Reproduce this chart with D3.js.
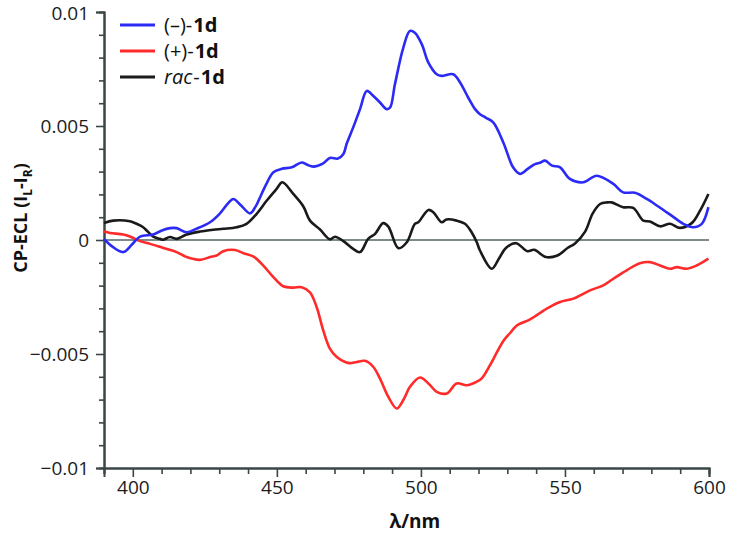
<!DOCTYPE html>
<html>
<head>
<meta charset="utf-8">
<script src="https://cdn.jsdelivr.net/npm/d3@7"></script>
<style>
  html, body { margin: 0; padding: 0; background: #ffffff; }
  svg { display: block; }
  text { font-family: "Open Sans", "Noto Sans", sans-serif; }
</style>
</head>
<body>
<svg id="chart" width="731" height="538"></svg>
<script>
// ---- data ----
const minusWl = [390,392.8,396.7,399.7,402.5,407,410.1,412.9,415.2,418.7,422.2,426.8,430.2,433,434.9,437.6,440.7,442.8,444.7,446.6,448.8,451.7,455.2,458.6,460.5,462.6,466.1,468.4,471.2,473.1,474.2,476.5,478.9,481.2,483.5,485.8,488.1,489.3,491,493.9,496.2,497.9,500.3,502.6,505.5,507.2,511.2,513.6,516.4,518.8,520.5,522.6,525.1,528.6,532,534.4,537.2,539.6,541.3,543.1,545.5,548.3,551.7,556.4,561,566.8,570.2,574.3,578.4,582.4,587,591.1,594.5,597.5,599.8];
const minusVal = [0.05,-0.28,-0.53,-0.2,0.15,0.24,0.42,0.52,0.52,0.34,0.5,0.78,1.16,1.6,1.8,1.51,1.17,1.51,2.02,2.52,2.97,3.12,3.19,3.4,3.3,3.22,3.36,3.6,3.57,3.77,4.21,4.94,5.75,6.54,6.32,6.03,5.74,5.81,6.84,8.44,9.17,9.09,8.59,7.78,7.27,7.2,7.27,6.91,6.25,5.74,5.52,5.36,5.16,4.28,3.19,2.9,3.13,3.33,3.39,3.48,3.26,3.19,2.68,2.53,2.82,2.46,2.09,2.07,1.8,1.47,1.07,0.71,0.56,0.71,1.44];

const plusWl = [390,392.1,396.7,399,402.5,406,410.6,415.2,418.7,423.3,426.8,429.1,431.4,435.5,438.4,441.8,445.3,448.8,452.2,455.7,458.6,461.5,463.8,466.1,468.4,470.8,473.7,475.4,477.7,480.6,483.5,485.8,488.7,491.6,493.9,496.2,499.7,502.6,505.5,509,512.4,515.9,519.3,521.2,524,526.4,528.8,530.9,533.4,537.9,543.7,548.3,552.9,558.7,563.3,566.8,571.4,576,579.5,583,586.5,588.8,592.3,595.7,599.8];
const plusVal = [0.37,0.31,0.24,0.15,-0.05,-0.17,-0.35,-0.53,-0.75,-0.87,-0.75,-0.68,-0.49,-0.44,-0.58,-0.72,-1.12,-1.63,-2.03,-2.09,-2.07,-2.3,-2.94,-3.96,-4.76,-5.13,-5.35,-5.4,-5.35,-5.3,-5.57,-6.08,-6.88,-7.39,-7.02,-6.44,-6.03,-6.29,-6.66,-6.73,-6.29,-6.37,-6.22,-6.06,-5.49,-4.92,-4.4,-4.09,-3.74,-3.48,-3.01,-2.72,-2.57,-2.21,-1.99,-1.7,-1.33,-1.02,-0.97,-1.12,-1.26,-1.19,-1.26,-1.12,-0.82];

const racWl = [390,393.2,399,401.3,403.6,404.8,407.1,409.4,410.5,412.9,415.2,418.7,423.3,427.9,431.4,436.1,439.5,443,446.5,449.9,451.9,455.7,459.2,461.5,465,468.4,470.2,473.1,476.5,478.9,481.7,484.1,486.9,488.7,492.2,495.1,497.9,499.1,502.6,504.3,507.2,508.9,512.4,515.3,517.6,519.4,520.5,524.6,527.1,529.5,533,537,539.3,543.4,547.4,550.9,553.5,557,559.6,562.2,564.6,566.2,570.2,573.7,577.2,579.5,583,586.5,589.9,594,596.9,599.8];
const racVal = [0.74,0.85,0.82,0.71,0.56,0.42,0.15,0.05,0.01,0.13,0.05,0.24,0.37,0.45,0.49,0.56,0.71,1.15,1.73,2.24,2.53,2.02,1.47,0.85,0.46,0.03,0.14,-0.05,-0.39,-0.53,0.05,0.27,0.74,0.59,-0.36,-0.1,0.71,0.78,1.32,1.22,0.78,0.9,0.85,0.71,0.34,-0.1,-0.46,-1.26,-0.81,-0.35,-0.14,-0.49,-0.43,-0.75,-0.68,-0.35,-0.15,0.37,1.16,1.58,1.65,1.65,1.44,1.41,0.85,0.81,0.6,0.71,0.53,0.74,1.29,2.02];

const valueScale = 0.001; // values above are in units of 1e-3
const seriesLabels = [
  [["(\u2013)-", "normal", "normal"], ["1d", "bold", "normal"]],
  [["(+)-", "normal", "normal"], ["1d", "bold", "normal"]],
  [["rac", "normal", "italic"], ["-", "normal", "normal"], ["1d", "bold", "normal"]]
];
const seriesColors = ["#2b2bf5", "#ff2a2a", "#1a1a1a"];
const xMajorTicks = [400, 450, 500, 550, 600];
const yMajorTicks = [0.01, 0.005, 0, -0.005, -0.01];
const xLabel = "\u03bb/nm";

// ---- layout ----
const svg = d3.select("#chart");
const x = d3.scaleLinear().domain([390, 600]).range([104, 709]);
const y = d3.scaleLinear().domain([-0.01, 0.01]).range([468, 12]);
const axisColor = "#3b4747";

// zero line
svg.append("line")
  .attr("x1", x(390)).attr("x2", x(600))
  .attr("y1", y(0)).attr("y2", y(0))
  .attr("stroke", "#7d8b8b").attr("stroke-width", 2);

// x ticks
const xMinor = d3.range(390, 601, 10).filter(v => !xMajorTicks.includes(v));
const xAxisMinor = d3.axisBottom(x).tickValues(xMinor).tickSize(6).tickFormat("");
const xAxisMajor = d3.axisBottom(x).tickValues(xMajorTicks).tickSize(9).tickPadding(4).tickFormat(d3.format("d"));
const gxMinor = svg.append("g").attr("transform", `translate(0,${y(-0.01)})`).call(xAxisMinor);
const gx = svg.append("g").attr("transform", `translate(0,${y(-0.01)})`).call(xAxisMajor);

// y ticks
const yMinor = d3.range(-10, 11, 1).map(v => v / 1000).filter(v => !yMajorTicks.some(t => Math.abs(t - v) < 1e-9));
const yAxisMinor = d3.axisLeft(y).tickValues(yMinor).tickSize(5).tickFormat("");
const fmtY = v => (v === 0 ? "0" : (v < 0 ? "\u2212" : "") + String(Math.abs(v)));
const yAxisMajor = d3.axisLeft(y).tickValues(yMajorTicks).tickSize(8).tickPadding(7).tickFormat(fmtY);
const gyMinor = svg.append("g").attr("transform", `translate(${x(390)},0)`).call(yAxisMinor);
const gy = svg.append("g").attr("transform", `translate(${x(390)},0)`).call(yAxisMajor);

[gxMinor, gx, gyMinor, gy].forEach(g => {
  g.selectAll(".domain").attr("stroke", axisColor).attr("stroke-width", 2);
  g.selectAll(".tick line").attr("stroke", axisColor).attr("stroke-width", 1.6);
  g.selectAll("text").attr("fill", "#1c1c1c").attr("font-size", 19)
    .attr("font-family", "'Open Sans', sans-serif");
});
gy.selectAll(".tick text").filter(d => d === 0.01).attr("dy", "0.38em");

// curves
const line = d3.line()
  .x(d => x(d[0])).y(d => y(d[1] * valueScale))
  .curve(d3.curveCatmullRom.alpha(0.5));
const seriesData = [
  d3.zip(minusWl, minusVal),
  d3.zip(plusWl, plusVal),
  d3.zip(racWl, racVal)
];
[1, 2, 0].forEach(i => {
  svg.append("path")
    .datum(seriesData[i])
    .attr("fill", "none")
    .attr("stroke", seriesColors[i])
    .attr("stroke-width", 2.6)
    .attr("stroke-linejoin", "round")
    .attr("d", line);
});

// legend
seriesLabels.forEach((parts, i) => {
  const ly = 25 + i * 26;
  svg.append("line").attr("x1", 120).attr("x2", 155).attr("y1", ly).attr("y2", ly)
    .attr("stroke", seriesColors[i]).attr("stroke-width", 3);
  let cx = 164;
  parts.forEach(([txt, weight, style]) => {
    const t = svg.append("text").attr("x", cx).attr("y", ly + 7)
      .attr("font-family", "'DejaVu Sans', sans-serif")
      .attr("font-size", 20).attr("fill", "#111")
      .attr("font-weight", weight).attr("font-style", style).text(txt);
    cx += t.node().getComputedTextLength() + 1;
  });
});

// axis titles
svg.append("text")
  .attr("x", x(500) - 6).attr("y", 528)
  .attr("text-anchor", "middle").attr("font-weight", "bold").attr("font-size", 19)
  .attr("fill", "#111").text(xLabel);

const yt = svg.append("text")
  .attr("transform", `translate(27,218) rotate(-90)`)
  .attr("text-anchor", "middle").attr("font-weight", "bold").attr("font-size", 18)
  .attr("fill", "#111");
yt.append("tspan").text("CP-ECL (I");
yt.append("tspan").attr("font-size", 12).attr("dy", 5).text("L");
yt.append("tspan").attr("dy", -5).text("-I");
yt.append("tspan").attr("font-size", 12).attr("dy", 5).text("R");
yt.append("tspan").attr("dy", -5).text(")");
</script>
</body>
</html>
